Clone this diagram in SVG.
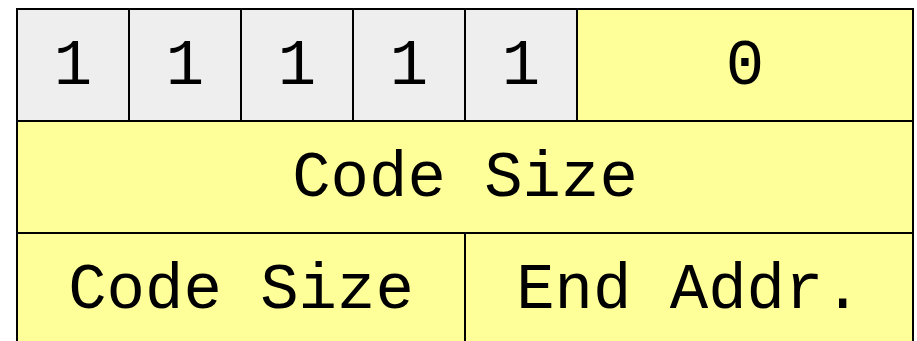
<svg xmlns="http://www.w3.org/2000/svg" width="917" height="341" viewBox="0 0 917 341">
<style>
.g{fill:#eeeeee;stroke:#000;stroke-width:2}
.y{fill:#ffff99;stroke:#000;stroke-width:2}
text{font-family:"Liberation Mono","Courier New",monospace;font-size:64px;fill:#000;text-anchor:middle}
</style>
<rect width="917" height="341" fill="#fff"/>
<g id="b1"><rect class="g" x="17" y="9" width="112" height="112"/><text x="73" y="84">1</text></g>
<g id="b2"><rect class="g" x="129" y="9" width="112" height="112"/><text x="185" y="84">1</text></g>
<g id="b3"><rect class="g" x="241" y="9" width="112" height="112"/><text x="297" y="84">1</text></g>
<g id="b4"><rect class="g" x="353" y="9" width="112" height="112"/><text x="409" y="84">1</text></g>
<g id="b5"><rect class="g" x="465" y="9" width="112" height="112"/><text x="521" y="84">1</text></g>
<g id="b6"><rect class="y" x="577" y="9" width="336" height="112"/><text x="745" y="84">0</text></g>
<g id="codesize1"><rect class="y" x="17" y="121" width="896" height="112"/><text x="465" y="196">Code Size</text></g>
<g id="codesize2"><rect class="y" x="17" y="233" width="448" height="120"/><text x="241" y="308">Code Size</text></g>
<g id="endaddr"><rect class="y" x="465" y="233" width="448" height="120"/><text x="689" y="308">End Addr.</text></g>
<g id="connectors"></g>
</svg>
